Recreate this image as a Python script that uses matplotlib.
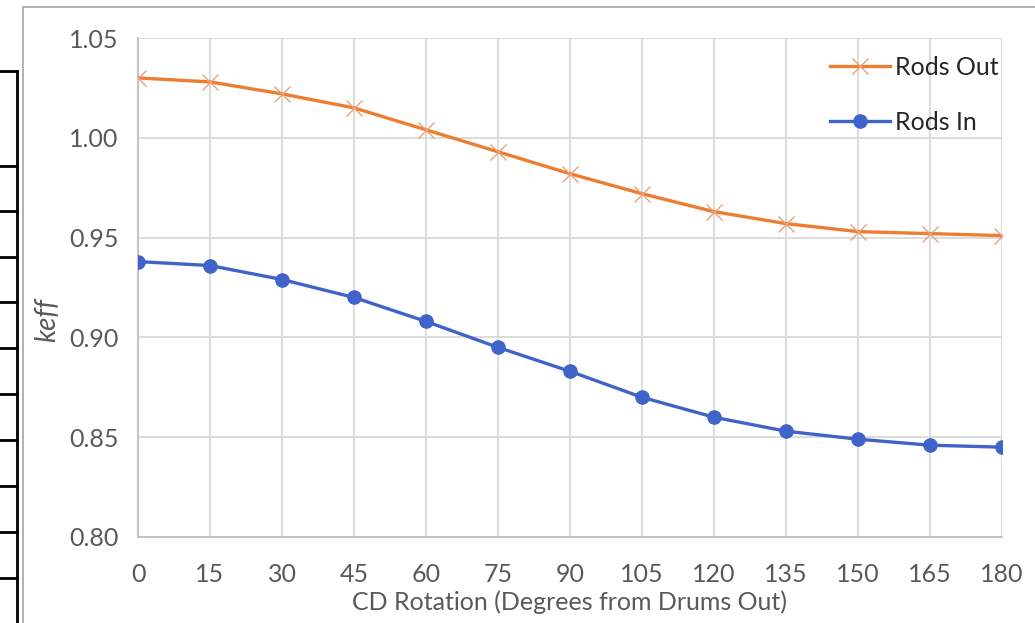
import matplotlib.pyplot as plt
from matplotlib.lines import Line2D
from matplotlib.patches import Rectangle

rotation = [0, 15, 30, 45, 60, 75, 90, 105, 120, 135, 150, 165, 180]
rods_out = [1.030, 1.028, 1.022, 1.015, 1.004, 0.993, 0.982, 0.972, 0.963, 0.957, 0.953, 0.952, 0.951]
rods_in = [0.938, 0.936, 0.929, 0.920, 0.908, 0.895, 0.883, 0.870, 0.860, 0.853, 0.849, 0.846, 0.845]
y_ticks = [0.80, 0.85, 0.90, 0.95, 1.00, 1.05]

plt.rcParams['font.family'] = ['Lato', 'DejaVu Sans']

W, H = 1035, 623
fig = plt.figure(figsize=(W / 100, H / 100), dpi=100)
ax = fig.add_axes([138 / W, 1 - 537 / H, (1002 - 138) / W, (537 - 38) / H])

# chart frame and the table edge at the left of the screenshot
fig.add_artist(Rectangle((23 / W, -0.1), 1.2, 1.1 - 7 / H, transform=fig.transFigure,
                         fill=False, edgecolor='#A6A6A6', linewidth=1.2))
fig.add_artist(Line2D([16.5 / W, 16.5 / W], [0, 1 - 71 / H], transform=fig.transFigure,
                      color='black', linewidth=2))
for yy in [71, 166, 211, 257, 302, 348, 394, 440, 486, 532, 578]:
    fig.add_artist(Line2D([0, 16.5 / W], [1 - yy / H, 1 - yy / H], transform=fig.transFigure,
                          color='black', linewidth=2))

ax.plot(rotation, rods_out, color='#ED7D31', linewidth=2.4, marker='x', markersize=11,
        markeredgewidth=1.0, markeredgecolor='#E8A27A', label='Rods Out', zorder=3)
ax.plot(rotation, rods_in, color='#3F63C8', linewidth=2.4, marker='o', markersize=9.5,
        markerfacecolor='#3F63C8', markeredgecolor='#3F63C8', label='Rods In', zorder=3)

ax.set_xlim(0, 180)
ax.set_ylim(0.80, 1.05)
ax.set_xticks(rotation)
ax.set_yticks(y_ticks)
ax.set_yticklabels(['%.2f' % v for v in y_ticks])
ax.grid(True, color='#D9D9D9', linewidth=1.3)
ax.set_axisbelow(True)
for s in ['top', 'right']:
    ax.spines[s].set_visible(False)
for s in ['left', 'bottom']:
    ax.spines[s].set_color('#BFBFBF')
    ax.spines[s].set_linewidth(1.3)
ax.tick_params(length=0, labelsize=18, labelcolor='#595959')
ax.tick_params(axis='x', pad=19)
ax.tick_params(axis='y', pad=14)

ax.set_xlabel('CD Rotation (Degrees from Drums Out)', fontsize=18, color='#595959', labelpad=3)
ax.set_ylabel('keff', fontsize=20, color='#595959', style='italic')
ax.yaxis.set_label_coords(-0.090, 0.435)

ax.legend(loc='upper right', bbox_to_anchor=(1.022, 1.01), frameon=False, fontsize=18,
          handlelength=2.4, handletextpad=0.2, labelspacing=1.3, labelcolor='#262626')

fig.savefig('out.png', dpi=100)
